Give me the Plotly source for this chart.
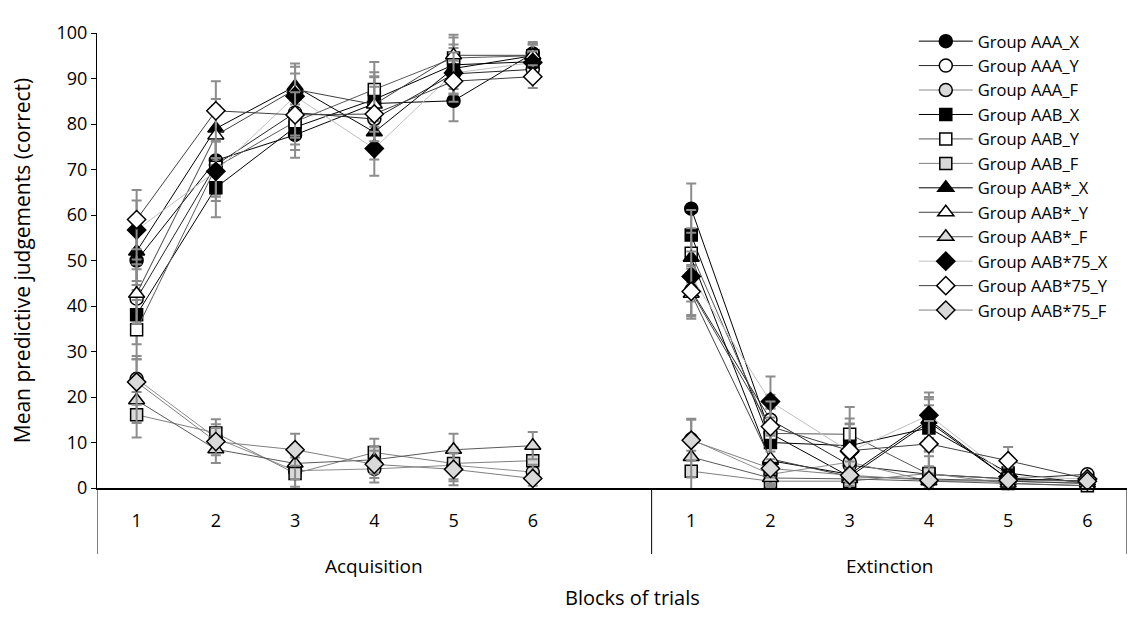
import plotly.graph_objects as go

# ---------------- data ----------------
blocks = ["1", "2", "3", "4", "5", "6"]
phases = ["Acquisition", "Extinction"]

series_names = ["Group AAA_X", "Group AAA_Y", "Group AAA_F",
                "Group AAB_X", "Group AAB_Y", "Group AAB_F",
                "Group AAB*_X", "Group AAB*_Y", "Group AAB*_F",
                "Group AAB*75_X", "Group AAB*75_Y", "Group AAB*75_F"]

# acquisition means (blocks 1-6)
acq_AAA_X = [50.0, 72.0, 77.6, 84.5, 85.1, 95.5]
acq_AAA_Y = [41.6, 71.0, 82.5, 81.1, 91.0, 92.0]
acq_AAA_F = [24.0, 11.0, 3.8, 4.2, 5.0, 3.5]
acq_AAB_X = [38.1, 66.0, 79.3, 85.4, 93.0, 93.7]
acq_AAB_Y = [34.8, 70.5, 80.5, 87.6, 94.5, 95.0]
acq_AAB_F = [16.1, 12.1, 3.2, 7.8, 5.4, 6.0]
acq_AABs_X = [52.0, 79.0, 88.3, 78.2, 92.2, 95.0]
acq_AABs_Y = [42.7, 77.5, 87.6, 84.3, 95.1, 95.1]
acq_AABs_F = [19.3, 8.5, 5.4, 6.2, 8.4, 9.3]
acq_AAB75_X = [56.7, 69.6, 86.1, 74.6, 91.2, 93.5]
acq_AAB75_Y = [59.0, 82.9, 82.0, 82.2, 89.4, 90.4]
acq_AAB75_F = [23.3, 10.2, 8.4, 5.2, 4.1, 2.1]

# extinction means (blocks 1-6)
ext_AAA_X = [61.4, 12.0, 2.5, 14.5, 2.0, 1.5]
ext_AAA_Y = [43.5, 15.0, 5.0, 3.0, 2.0, 3.0]
ext_AAA_F = [10.7, 3.0, 5.7, 1.5, 1.5, 1.0]
ext_AAB_X = [55.6, 10.0, 9.3, 13.2, 3.3, 1.0]
ext_AAB_Y = [51.6, 12.0, 11.8, 3.0, 2.0, 1.5]
ext_AAB_F = [3.7, 1.5, 1.5, 3.2, 1.0, 0.5]
ext_AABs_X = [50.6, 6.0, 3.0, 15.0, 2.0, 1.5]
ext_AABs_Y = [42.7, 6.4, 2.5, 2.0, 1.5, 1.0]
ext_AABs_F = [6.8, 2.2, 2.0, 1.5, 1.0, 0.5]
ext_AAB75_X = [46.5, 19.0, 8.0, 16.0, 2.5, 2.0]
ext_AAB75_Y = [43.2, 13.5, 8.2, 9.7, 6.0, 2.0]
ext_AAB75_F = [10.5, 4.3, 2.8, 1.7, 1.7, 1.5]

# standard errors
err_acq_main = [6.5, 6.5, 5.0, 6.0, 4.5, 2.5]
err_acq_f = [5.0, 3.0, 3.5, 3.0, 3.5, 3.0]
err_ext_main = [5.5, 5.5, 6.0, 5.0, 3.0, 1.0]
err_ext_f = [4.5, 2.0, 1.5, 1.5, 1.0, 0.8]

acq = [acq_AAA_X, acq_AAA_Y, acq_AAA_F, acq_AAB_X, acq_AAB_Y, acq_AAB_F,
       acq_AABs_X, acq_AABs_Y, acq_AABs_F, acq_AAB75_X, acq_AAB75_Y, acq_AAB75_F]
ext = [ext_AAA_X, ext_AAA_Y, ext_AAA_F, ext_AAB_X, ext_AAB_Y, ext_AAB_F,
       ext_AABs_X, ext_AABs_Y, ext_AABs_F, ext_AAB75_X, ext_AAB75_Y, ext_AAB75_F]

# ---------------- styles ----------------
symbols = ["circle", "circle", "circle", "square", "square", "square",
           "triangle-up", "triangle-up", "triangle-up", "diamond", "diamond", "diamond"]
fills = ["black", "white", "#d9d9d9"] * 4
line_cols = ["#000000", "#262626", "#8c8c8c", "#000000", "#595959", "#7f7f7f",
             "#000000", "#404040", "#595959", "#bfbfbf", "#404040", "#7f7f7f"]
msizes = {"circle": 13, "square": 12, "triangle-up": 14, "diamond": 14}

# x slots: 0-5 acquisition, 6 blank, 7-12 extinction
x_acq = list(range(0, 6))
x_ext = list(range(7, 13))
xs = x_acq + [6] + x_ext

fig = go.Figure()
for i, name in enumerate(series_names):
    is_f = name.endswith("_F")
    ys = acq[i] + [None] + ext[i]
    ea = (err_acq_f if is_f else err_acq_main) + [None] + (err_ext_f if is_f else err_ext_main)
    fig.add_trace(go.Scatter(
        x=xs, y=ys, name=name, mode="lines+markers",
        connectgaps=False, cliponaxis=False,
        line=dict(color=line_cols[i], width=1),
        marker=dict(symbol=symbols[i], size=msizes[symbols[i]], color=fills[i],
                    line=dict(color="black", width=1.5)),
        error_y=dict(type="data", array=ea, visible=True, color="#8c8c8c",
                     thickness=2, width=5),
    ))

FONT = "Open Sans"
fig.update_layout(
    width=1140, height=630,
    margin=dict(l=89, r=21, t=16, b=150),
    paper_bgcolor="white", plot_bgcolor="white",
    font=dict(family=FONT, size=17, color="black"),
    showlegend=True,
    legend=dict(x=0.793, y=1.02, xanchor="left", yanchor="top",
                font=dict(family=FONT, size=16.5, color="black"),
                bgcolor="rgba(255,255,255,0)", itemwidth=54,
                tracegroupgap=0),
    xaxis=dict(range=[-0.5, 12.5], tickmode="array",
               tickvals=x_acq + x_ext, ticktext=blocks + blocks,
               showgrid=False, zeroline=False, showline=True,
               linecolor="black", linewidth=2, ticks="",
               ticklabelstandoff=15, tickfont=dict(size=18)),
    yaxis=dict(range=[0, 100], dtick=10, showgrid=False, zeroline=False,
               showline=True, linecolor="black", linewidth=1,
               ticks="outside", ticklen=5, tickcolor="black",
               tickfont=dict(size=18),
               title=dict(text="Mean predictive judgements (correct)",
                          font=dict(size=21), standoff=22)),
)

# group separators and labels for the two-level category axis
for xv in [-0.5, 6.5, 12.5]:
    fig.add_shape(type="line", xref="x", yref="paper", x0=xv, x1=xv,
                  y0=0, y1=-0.145, line=dict(color="black", width=1))
fig.add_annotation(x=(x_acq[0] + 6) / 2, y=-0.172, xref="x", yref="paper",
                   text=phases[0], showarrow=False, font=dict(size=19),
                   yanchor="middle")
fig.add_annotation(x=(x_ext[0] + x_ext[-1]) / 2, y=-0.172, xref="x", yref="paper",
                   text=phases[1], showarrow=False, font=dict(size=19),
                   yanchor="middle")
fig.add_annotation(x=0.52, y=-0.241, xref="paper", yref="paper",
                   text="Blocks of trials", showarrow=False, font=dict(size=20),
                   yanchor="middle")

fig.write_html("out.html")
